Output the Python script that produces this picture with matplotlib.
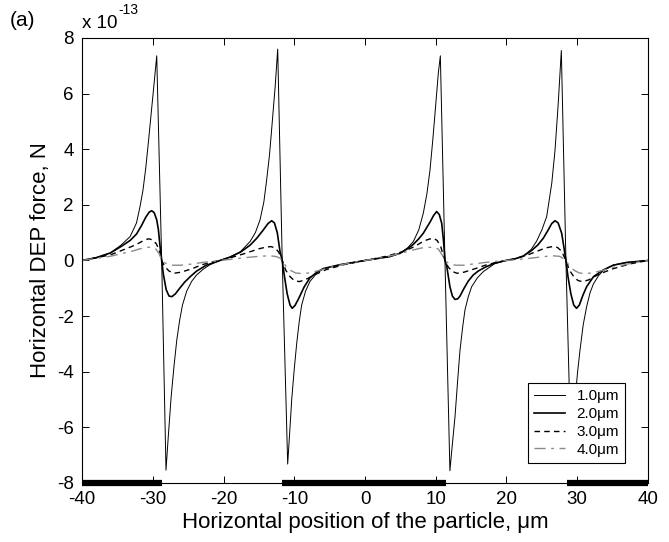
import matplotlib
matplotlib.use("Agg")
import matplotlib.pyplot as plt

plt.rcParams['font.family'] = ['Liberation Sans', 'DejaVu Sans']
plt.rcParams['axes.unicode_minus'] = False

# force values are in units of 1e-13 N, positions in um
x_10 = [-40, -38, -36, -34.5, -33.2, -32.3, -31.8, -31.4, -31.0, -30.6, -30.2, -29.8, -29.44,
        -28.74, -28.13, -27.8, -27.4, -27.0, -26.6, -26.2, -25.8, -25.2, -24.5, -23.8, -22.8,
        -21.9, -20.5, -19.1, -17.6, -16.25, -15.5, -14.84, -14.3, -13.9, -13.5, -13.2, -12.7,
        -12.34, -11.7, -10.93, -10.65, -10.36, -10.0, -9.65, -9.3, -8.95, -8.4, -7.77, -6.8,
        -5.9, -3.5, 0, 3.5, 4.95, 6.0, 6.83, 7.6, 8.24, 8.75, 9.19, 9.55, 9.9, 10.36, 10.65,
        11.3, 12.0, 12.35, 12.72, 13.1, 13.43, 13.8, 14.13, 14.6, 15.08, 15.9, 16.72, 18.3,
        19.9, 21.2, 22.38, 23.5, 24.27, 25.0, 25.68, 26.4, 26.86, 27.3, 27.75, 28.4,
        29.15, 29.45, 29.7, 30.05, 30.39, 30.85, 31.33, 31.8, 32.27, 33.0, 33.68, 35.1, 37.0, 40]
f_10 = [0.0, 0.1, 0.27, 0.55, 0.86, 1.35, 1.94, 2.5, 3.3, 4.3, 5.35, 6.4, 7.36,
        0.0, -7.54, -6.3, -4.9, -3.8, -2.85, -2.15, -1.6, -1.1, -0.75, -0.52, -0.3,
        -0.15, 0.0, 0.12, 0.32, 0.68, 1.0, 1.46, 2.1, 2.9, 3.8, 4.7, 6.25,
        7.6, 0.0, -7.32, -6.2, -5.0, -3.9, -2.97, -2.2, -1.6, -1.1, -0.75, -0.45,
        -0.3, -0.15, 0.0, 0.14, 0.26, 0.45, 0.68, 1.1, 1.7, 2.4, 3.26, 4.25, 5.3, 6.73, 7.36,
        0.0, -7.56, -6.6, -5.62, -4.3, -3.22, -2.4, -1.78, -1.3, -0.94, -0.62, -0.40, -0.12,
        0.0, 0.06, 0.16, 0.4, 0.7, 1.1, 1.58, 2.78, 3.97, 5.6, 7.55, 0.0,
        -7.3, -6.1, -5.0, -4.0, -3.22, -2.3, -1.66, -1.17, -0.85, -0.55, -0.36, -0.16, -0.07, 0.0]

x_20 = [-40, -38, -36, -34.5, -33.2, -32.3, -31.6, -31.0, -30.5, -30.15, -29.8, -29.44, -29.2,
        -28.97, -28.74, -28.5, -28.1, -27.7, -27.3, -26.8, -26.2, -25.5, -24.7, -23.8, -22.5,
        -21.2, -20.5, -19.1, -17.6, -16.25, -15.3, -14.37, -13.7, -13.19, -12.8, -12.4, -12.0,
        -11.7, -11.4, -11.0, -10.6, -10.3, -9.9, -9.4, -8.6, -7.77, -6.8, -5.9, -3.5, 0,
        3.5, 4.95, 6.0, 6.83, 7.6, 8.24, 9.19, 9.7, 10.13, 10.5, 10.84, 11.1, 11.3,
        11.55, 12.0, 12.35, 12.72, 13.1, 13.43, 14.0, 14.6, 15.3, 16.0, 17.0, 18.3, 19.9,
        21.2, 22.38, 23.5, 24.4, 25.2, 25.9, 26.4, 26.86, 27.3, 27.8, 28.1, 28.4,
        28.7, 29.1, 29.5, 29.9, 30.3, 30.8, 31.33, 32.3, 33.68, 35.1, 37.0, 40]
f_20 = [0.0, 0.1, 0.27, 0.5, 0.72, 0.95, 1.25, 1.55, 1.74, 1.79, 1.72, 1.46, 1.1,
        0.5, 0.0, -0.5, -1.05, -1.28, -1.30, -1.2, -1.0, -0.78, -0.58, -0.38, -0.18,
        -0.06, 0.0, 0.12, 0.3, 0.55, 0.8, 1.1, 1.33, 1.43, 1.35, 1.0, 0.3,
        0.0, -0.55, -1.2, -1.6, -1.72, -1.62, -1.38, -0.95, -0.62, -0.42, -0.29, -0.15, 0.0,
        0.14, 0.26, 0.42, 0.58, 0.78, 0.98, 1.38, 1.62, 1.76, 1.65, 1.34, 0.7, 0.0,
        -0.2, -0.94, -1.28, -1.40, -1.38, -1.28, -1.0, -0.74, -0.52, -0.38, -0.24, -0.1, 0.0,
        0.06, 0.16, 0.35, 0.55, 0.8, 1.1, 1.33, 1.43, 1.35, 0.98, 0.5, 0.0,
        -0.6, -1.2, -1.6, -1.72, -1.6, -1.25, -0.94, -0.58, -0.34, -0.17, -0.07, 0.0]

x_30 = [-40, -36, -33, -32, -31.2, -30.6, -30.0, -29.5, -29.1, -28.74, -28.3, -27.7, -27.0, -26,
        -24.5, -23, -21.5, -20.5, -19, -17, -15, -14, -13.3, -12.7, -12.2, -11.7,
        -11.2, -10.6, -10.0, -9.3, -8.5, -7, -5.5, -3, 0, 3, 5.5, 7, 8.3, 9.1, 9.65, 10.2,
        10.7, 11.3, 11.8, 12.4, 13.0, 14, 15.5, 17, 18.5, 20, 21.5, 23, 24.5, 25.5, 26.5,
        27.2, 27.8, 28.4, 28.9, 29.5, 30.1, 30.7, 31.6, 33, 35, 37.5, 40]
f_30 = [0.0, 0.2, 0.5, 0.62, 0.73, 0.78, 0.74, 0.6, 0.38, 0.0, -0.22, -0.38, -0.46, -0.42,
        -0.3, -0.15, -0.05, 0.0, 0.1, 0.25, 0.42, 0.48, 0.5, 0.45, 0.3, 0.0,
        -0.35, -0.58, -0.72, -0.76, -0.7, -0.5, -0.33, -0.15, 0.0, 0.15, 0.33, 0.5, 0.7, 0.77, 0.8, 0.72,
        0.5, 0.0, -0.25, -0.4, -0.46, -0.42, -0.3, -0.17, -0.07, 0.0, 0.08, 0.2, 0.35, 0.45, 0.5,
        0.47, 0.33, 0.0, -0.35, -0.58, -0.72, -0.76, -0.7, -0.5, -0.3, -0.12, 0.0]

x_40 = [-40, -36, -33, -31.8, -30.9, -30.3, -29.6, -29.1, -28.74, -28.2, -27.2, -26,
        -24.5, -23, -21, -20.5, -19, -17, -15, -13.5, -12.5, -12, -11.7,
        -11.2, -10.5, -9.8, -9.0, -8, -6.5, -4.5, -2, 0, 2, 4.5, 6.5, 8, 9.0, 9.8, 10.4,
        10.9, 11.3, 11.8, 12.8, 14, 15.5, 17, 19, 20, 21, 23, 25, 26.5,
        27.5, 28.0, 28.4, 28.9, 29.6, 30.3, 31.0, 32, 33.5, 35.5, 38, 40]
f_40 = [0.0, 0.15, 0.33, 0.42, 0.47, 0.48, 0.42, 0.25, 0.0, -0.1, -0.17, -0.17,
        -0.13, -0.07, -0.02, 0.0, 0.04, 0.1, 0.15, 0.17, 0.14, 0.08, 0.0,
        -0.2, -0.36, -0.45, -0.47, -0.45, -0.36, -0.22, -0.08, 0.0, 0.08, 0.22, 0.36, 0.45, 0.47, 0.48, 0.4,
        0.2, 0.0, -0.1, -0.17, -0.17, -0.12, -0.07, -0.02, 0.0, 0.02, 0.07, 0.13, 0.17,
        0.15, 0.08, 0.0, -0.2, -0.36, -0.45, -0.47, -0.45, -0.36, -0.22, -0.08, 0.0]

# electrode strips drawn along the bottom axis
electrodes = [(-40, -28.74), (-11.7, 11.4), (28.6, 40)]

labels = ['1.0\u03bcm', '2.0\u03bcm', '3.0\u03bcm', '4.0\u03bcm']

fig = plt.figure(figsize=(6.69, 5.42), dpi=100)
ax = fig.add_axes([0.1226, 0.1089, 0.846, 0.821])

ax.plot(x_10, f_10, color='black', lw=0.7, label=labels[0])
ax.plot(x_20, f_20, color='black', lw=1.2, label=labels[1])
ax.plot(x_30, f_30, color='black', lw=1.0, ls=(0, (4, 3)), label=labels[2])
ax.plot(x_40, f_40, color='#8a8a8a', lw=1.0, ls=(0, (8, 4, 2, 4)), label=labels[3])

for a, b in electrodes:
    ax.plot([a, b], [-8, -8], color='black', lw=4.5, solid_capstyle='butt',
            clip_on=False, zorder=5)

ax.set_xlim(-40, 40)
ax.set_ylim(-8, 8)
ax.set_xticks(range(-40, 41, 10))
ax.set_yticks(range(-8, 9, 2))
ax.tick_params(direction='in', top=True, right=True, length=5, width=0.7,
               labelsize=13.5, pad=6)
for s in ax.spines.values():
    s.set_linewidth(0.8)

ax.set_xlabel('Horizontal position of the particle, \u03bcm', fontsize=16, labelpad=3)
ax.set_ylabel('Horizontal DEP force, N', fontsize=16, labelpad=4)

fig.text(0.123, 0.941, 'x 10', fontsize=13.5, ha='left', va='bottom')
fig.text(0.177, 0.968, '-13', fontsize=10, ha='left', va='bottom')
fig.text(0.015, 0.945, '(a)', fontsize=15, ha='left', va='bottom')

leg = ax.legend(loc='lower right', bbox_to_anchor=(0.96, 0.045), fontsize=11,
                frameon=True, fancybox=False, edgecolor='black', framealpha=1,
                handlelength=2.0, handletextpad=0.8, borderpad=0.4,
                labelspacing=0.25, borderaxespad=0)
leg.get_frame().set_linewidth(0.8)

fig.savefig('out.png', dpi=100)
